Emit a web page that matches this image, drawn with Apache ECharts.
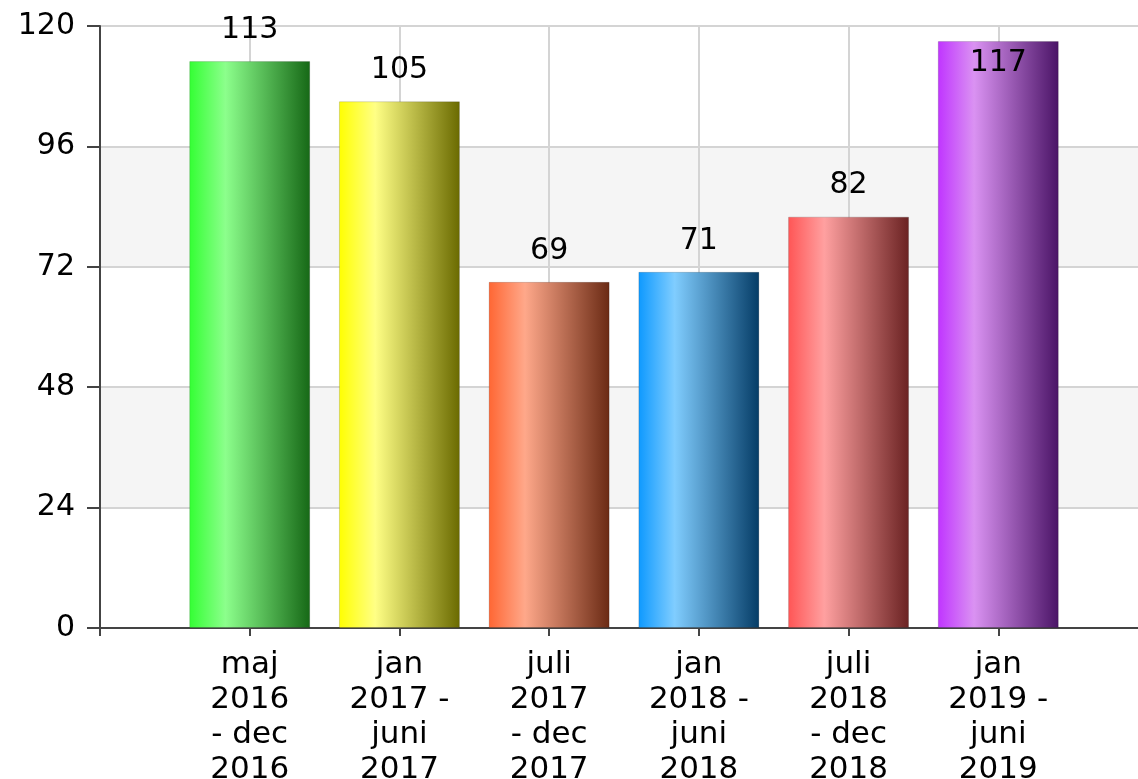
<!DOCTYPE html>
<html>
<head>
    <meta charset="utf-8">
    <title>ECharts</title>
    <script src="https://cdn.jsdelivr.net/npm/echarts@6.0.0/dist/echarts.min.js"></script>
</head>
<body style="margin:0">
<div id="main" style="width: 1138px;height:779px;"></div>
<script type="text/javascript">
    // kategorier, tom plats först och sist som i originalet
    var categories = ['', 'maj\n2016\n- dec\n2016', 'jan\n2017 -\njuni\n2017', 'juli\n2017\n- dec\n2017',
        'jan\n2018 -\njuni\n2018', 'juli\n2018\n- dec\n2018', 'jan\n2019 -\njuni\n2019', ''];
    var values = ['-', 113, 105, 69, 71, 82, 117, '-'];
    var yTicks = [0, 24, 48, 72, 96, 120];

    // färger per stapel: vänster, ljus, mörk
    var barColors = [
        null,
        ['#33ff33', '#8cff8c', '#166816'],
        ['#ffff00', '#ffff85', '#6a6a00'],
        ['#ff6633', '#ffa88a', '#6a2a14'],
        ['#0d99ff', '#80cdff', '#053c66'],
        ['#ff5555', '#ffa0a0', '#6a2222'],
        ['#c034ff', '#da92f2', '#4a1466'],
        null
    ];

    var font = '"DejaVu Sans", Verdana, sans-serif';

    var seriesData = values.map(function (v, i) {
        if (v === '-') return v;
        var c = barColors[i];
        var item = {
            value: v,
            itemStyle: {
                color: new echarts.graphic.LinearGradient(0, 0, 1, 0, [
                    {offset: 0, color: c[0]},
                    {offset: 0.3, color: c[1]},
                    {offset: 1, color: c[2]}
                ]),
                borderColor: 'rgba(0,0,0,0.15)',
                borderWidth: 1
            }
        };
        if (v > 114) {
            item.label = {position: 'insideTop', distance: 7};
        }
        return item;
    });

    var myChart = echarts.init(document.getElementById('main'));
    var option = {
        animation: false,
        backgroundColor: '#fff',
        grid: {
            left: 100,
            top: 26,
            width: 1048,
            height: 602,
            containLabel: false,
            outerBoundsMode: 'none'
        },
        xAxis: {
            type: 'category',
            data: categories,
            boundaryGap: false,
            axisLine: {lineStyle: {color: '#444', width: 2}},
            axisTick: {show: true, length: 8, lineStyle: {color: '#444', width: 2}},
            axisLabel: {
                interval: 0,
                margin: 19,
                fontSize: 31,
                lineHeight: 35,
                color: '#000',
                fontFamily: font
            },
            splitLine: {show: true, lineStyle: {color: '#d4d4d4', width: 2}}
        },
        yAxis: {
            type: 'value',
            min: yTicks[0],
            max: yTicks[yTicks.length - 1],
            interval: yTicks[1] - yTicks[0],
            axisLine: {show: true, lineStyle: {color: '#444', width: 2}},
            axisTick: {show: true, length: 13, lineStyle: {color: '#444', width: 2}},
            axisLabel: {
                margin: 25,
                fontSize: 30,
                color: '#000',
                fontFamily: font
            },
            splitLine: {show: true, lineStyle: {color: '#d4d4d4', width: 2}},
            splitArea: {show: true, areaStyle: {color: ['#ffffff', '#f5f5f5']}}
        },
        series: [{
            type: 'bar',
            data: seriesData,
            barWidth: 121,
            label: {
                show: true,
                position: 'top',
                distance: 16,
                fontSize: 30,
                color: '#000',
                fontFamily: font
            }
        }]
    };

    myChart.setOption(option);
</script>
</body>
</html>
